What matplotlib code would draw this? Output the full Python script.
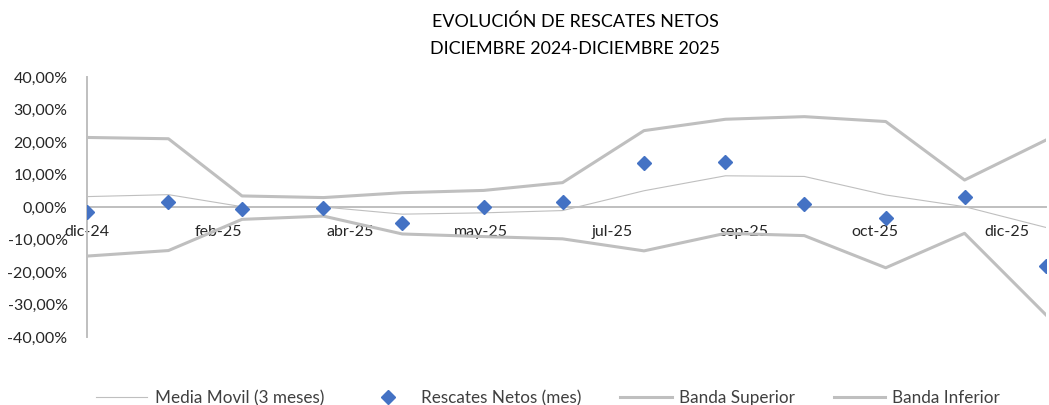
import datetime as dt
import matplotlib
matplotlib.use("Agg")
import matplotlib.pyplot as plt
import matplotlib.dates as mdates
from matplotlib.ticker import FuncFormatter

plt.rcParams['font.family'] = ['Lato', 'DejaVu Sans']

# fechas de cierre de mes
fechas = [dt.date(2024, 12, 31), dt.date(2025, 1, 31), dt.date(2025, 2, 28), dt.date(2025, 3, 31),
          dt.date(2025, 4, 30), dt.date(2025, 5, 31), dt.date(2025, 6, 30), dt.date(2025, 7, 31),
          dt.date(2025, 8, 31), dt.date(2025, 9, 30), dt.date(2025, 10, 31), dt.date(2025, 11, 30),
          dt.date(2025, 12, 31)]

# valores en %
rescates = [-1.4, 1.4, -0.6, -0.3, -4.9, 0.1, 1.6, 13.6, 13.7, 1.0, -3.5, 3.0, -18.1]
media_movil = [3.2, 3.8, 0.1, 0.0, -2.2, -1.8, -1.1, 5.0, 9.6, 9.4, 3.7, 0.1, -6.3]
banda_sup = [21.4, 21.0, 3.4, 2.9, 4.4, 5.1, 7.5, 23.5, 27.0, 27.8, 26.3, 8.3, 20.6]
banda_inf = [-15.1, -13.4, -3.8, -2.8, -8.3, -9.1, -9.8, -13.5, -8.1, -8.8, -18.7, -8.1, -33.2]

meses = ['ene', 'feb', 'mar', 'abr', 'may', 'jun', 'jul', 'ago', 'sep', 'oct', 'nov', 'dic']

gris = '#BFBFBF'
azul = '#4472C4'

fig = plt.figure(figsize=(10.49, 4.05), dpi=100)
ax = fig.add_axes([87 / 1049, 68 / 405, (1046 - 87) / 1049, 260 / 405])

ax.plot(fechas, media_movil, color=gris, lw=0.8, label='Media Movil (3 meses)')
ax.plot(fechas, rescates, linestyle='none', marker='D', ms=7, color=azul,
        label='Rescates Netos (mes)', zorder=5)
ax.plot(fechas, banda_sup, color=gris, lw=2.2, label='Banda Superior')
ax.plot(fechas, banda_inf, color=gris, lw=2.2, label='Banda Inferior')

ax.set_ylim(-40, 40)
ax.set_yticks(range(-40, 41, 10))
ax.yaxis.set_major_formatter(FuncFormatter(lambda v, p: f"{v:.2f}%".replace('.', ',')))
ax.set_xlim(mdates.date2num(fechas[0]), mdates.date2num(fechas[-1]))

# eje de fechas cada 50 dias, como en Excel
ticks = [fechas[0] + dt.timedelta(days=50 * k) for k in range(8)]
ax.set_xticks(mdates.date2num(ticks))
ax.set_xticklabels([f"{meses[d.month - 1]}-{d.strftime('%y')}" for d in ticks])

for s in ['top', 'right']:
    ax.spines[s].set_visible(False)
ax.spines['bottom'].set_position(('data', 0))
ax.spines['bottom'].set_color(gris)
ax.spines['bottom'].set_linewidth(1.4)
ax.spines['left'].set_color(gris)
ax.spines['left'].set_linewidth(1.4)
ax.tick_params(axis='both', length=0, labelsize=11.5)
ax.tick_params(axis='x', pad=13)
ax.tick_params(axis='y', pad=14)
for lab in ax.get_xticklabels() + ax.get_yticklabels():
    lab.set_color('#262626')

fig.text(575 / 1049, 1 - 22 / 405, 'EVOLUCIÓN DE RESCATES NETOS', ha='center', va='center',
         fontsize=12.9, color='black')
fig.text(575 / 1049, 1 - 49 / 405, 'DICIEMBRE 2024-DICIEMBRE 2025', ha='center', va='center',
         fontsize=12.9, color='black')

fig.legend(loc='center', bbox_to_anchor=(548 / 1049, 7 / 405), ncol=4, frameon=False,
           fontsize=12.3, handlelength=3.0, columnspacing=2.25, handletextpad=0.45,
           labelcolor='#404040')

fig.savefig('out.png', dpi=100)
